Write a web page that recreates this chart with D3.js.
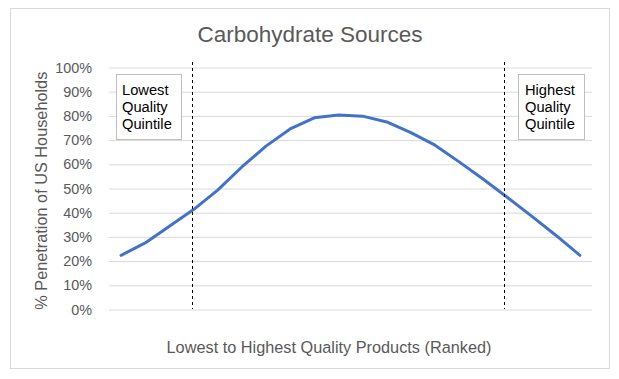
<!DOCTYPE html>
<html>
<head>
<meta charset="utf-8">
<script src="https://cdn.jsdelivr.net/npm/d3@7"></script>
<style>
  html, body { margin: 0; padding: 0; background: #fff; }
  svg { display: block; font-family: "Liberation Sans", Arial, sans-serif; }
</style>
</head>
<body>
<svg id="chart" width="619" height="379"></svg>
<script>
// ---- data ----
const titleText = "Carbohydrate Sources";
const xAxisTitle = "Lowest to Highest Quality Products (Ranked)";
const yAxisTitle = "% Penetration of US Households";
const categories = d3.range(1, 21).map(String); // 20 ranked products
const penetration = [0.224, 0.275, 0.344, 0.413, 0.493, 0.589, 0.675, 0.746, 0.792, 0.804,
                     0.799, 0.775, 0.731, 0.679, 0.610, 0.538, 0.463, 0.386, 0.307, 0.224];
const yTicks = [0, 0.1, 0.2, 0.3, 0.4, 0.5, 0.6, 0.7, 0.8, 0.9, 1.0];
const markerPositions = [2.93, 15.87]; // fractional product index of quintile cut lines
const annotationLines = [["Lowest", "Quality", "Quintile"], ["Highest", "Quality", "Quintile"]];

// ---- layout ----
const svg = d3.select("#chart");
const plot = { left: 109, right: 592, top: 67.5, bottom: 309.5 };

svg.append("rect").attr("x", 10.5).attr("y", 8.5).attr("width", 599).attr("height", 360)
  .attr("fill", "#fff").attr("stroke", "#D9D9D9").attr("stroke-width", 1);

const x = d3.scaleLinear().domain([-0.5, categories.length - 0.5]).range([plot.left, plot.right]);
const y = d3.scaleLinear().domain([0, 1]).range([plot.bottom, plot.top]);

// gridlines
const yAxis = d3.axisLeft(y).tickValues(yTicks).tickSize(-(plot.right - plot.left))
  .tickFormat(d3.format(".0%")).tickPadding(17);
const gy = svg.append("g").attr("transform", `translate(${plot.left},0)`).call(yAxis);
gy.select(".domain").remove();
gy.selectAll(".tick line").attr("stroke", "#D9D9D9").attr("stroke-width", 1);
gy.selectAll(".tick text").attr("fill", "#595959").attr("font-size", "14.4px")
  .attr("font-family", "'Liberation Sans', Arial, sans-serif");

// line
const line = d3.line().x((d, i) => x(i)).y(d => y(d)).curve(d3.curveLinear);
svg.append("path").datum(penetration).attr("d", line)
  .attr("fill", "none").attr("stroke", "#4472C4").attr("stroke-width", 3)
  .attr("stroke-linejoin", "round").attr("stroke-linecap", "round");

// dashed quintile lines
svg.selectAll("line.marker").data(markerPositions).enter().append("line")
  .attr("class", "marker")
  .attr("x1", d => Math.round(x(d)) + 0.5).attr("x2", d => Math.round(x(d)) + 0.5)
  .attr("y1", 62).attr("y2", 309)
  .attr("stroke", "#000").attr("stroke-width", 1).attr("stroke-dasharray", "3,3");

// annotation boxes
const boxes = [
  { x: 116.5, y: 74.5, w: 65, h: 65, tx: 122, lines: annotationLines[0] },
  { x: 518.5, y: 74.5, w: 66, h: 65, tx: 525, lines: annotationLines[1] }
];
boxes.forEach(b => {
  svg.append("rect").attr("x", b.x).attr("y", b.y).attr("width", b.w).attr("height", b.h)
    .attr("fill", "#fff").attr("stroke", "#BFBFBF").attr("stroke-width", 1);
  const t = svg.append("text").attr("font-size", "14.7px").attr("fill", "#000");
  b.lines.forEach((l, i) => {
    t.append("tspan").attr("x", b.tx).attr("y", 94.5 + i * 17.4).text(l);
  });
});

// title
svg.append("text").attr("x", 310).attr("y", 41.5).attr("text-anchor", "middle")
  .attr("font-size", "22.5px").attr("fill", "#595959").text(titleText);

// x axis title
svg.append("text").attr("x", 329).attr("y", 353).attr("text-anchor", "middle")
  .attr("font-size", "16.3px").attr("fill", "#595959").text(xAxisTitle);

// y axis title
svg.append("text").attr("transform", "translate(47,190.7) rotate(-90)")
  .attr("text-anchor", "middle").attr("font-size", "16.3px").attr("fill", "#595959").text(yAxisTitle);
</script>
</body>
</html>
